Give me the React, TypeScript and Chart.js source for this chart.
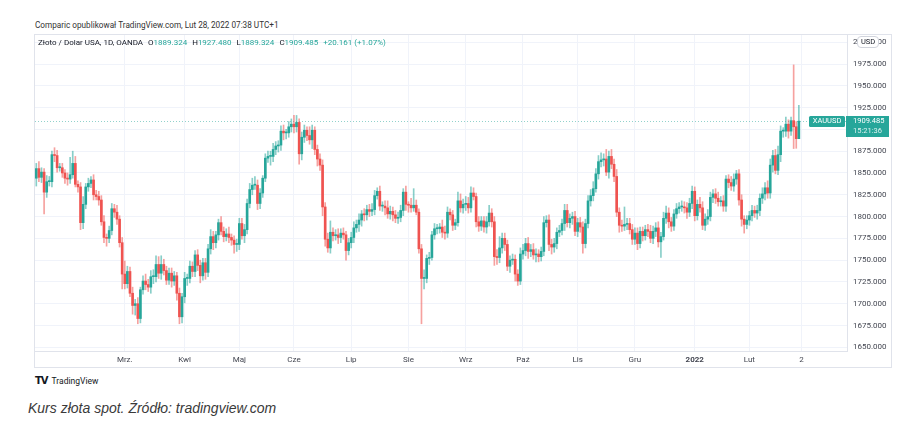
import React, { useEffect, useRef } from 'react';
import { Chart, registerables } from 'chart.js';

Chart.register(...registerables);

// Daily closes XAUUSD (OANDA), 12 Jan 2021 .. 28 Feb 2022
const closes = [
  1855, 1845, 1851, 1828, 1840, 1840, 1871, 1870, 1856, 1856,
  1850, 1844, 1843, 1848, 1861, 1837, 1834, 1793, 1814, 1834,
  1838, 1842, 1825, 1823, 1819, 1794, 1776, 1775, 1784, 1809,
  1805, 1797, 1770, 1734, 1723, 1737, 1712, 1698, 1700, 1683,
  1716, 1726, 1722, 1719, 1731, 1731, 1745, 1735, 1745, 1738,
  1727, 1735, 1726, 1732, 1712, 1685, 1708, 1729, 1729, 1743,
  1737, 1756, 1744, 1732, 1747, 1736, 1763, 1777, 1770, 1779,
  1793, 1783, 1777, 1780, 1776, 1773, 1768, 1768, 1792, 1778,
  1785, 1815, 1831, 1836, 1836, 1815, 1827, 1844, 1867, 1869,
  1869, 1877, 1881, 1882, 1898, 1896, 1896, 1903, 1906, 1903,
  1908, 1872, 1891, 1899, 1893, 1888, 1899, 1877, 1866, 1859,
  1811, 1774, 1764, 1782, 1778, 1779, 1776, 1781, 1779, 1761,
  1770, 1776, 1787, 1791, 1796, 1803, 1802, 1808, 1806, 1808,
  1824, 1829, 1812, 1812, 1810, 1803, 1806, 1802, 1798, 1799,
  1807, 1828, 1814, 1813, 1810, 1813, 1805, 1763, 1729, 1729,
  1752, 1753, 1779, 1786, 1786, 1788, 1782, 1781, 1805, 1802,
  1790, 1793, 1818, 1810, 1814, 1815, 1810, 1827, 1823, 1794,
  1789, 1795, 1788, 1794, 1804, 1794, 1754, 1753, 1764, 1775,
  1768, 1743, 1750, 1751, 1734, 1726, 1757, 1761, 1769, 1760,
  1762, 1756, 1757, 1754, 1760, 1793, 1796, 1768, 1765, 1769,
  1782, 1784, 1792, 1807, 1793, 1798, 1800, 1783, 1793, 1788,
  1769, 1792, 1818, 1824, 1832, 1849, 1863, 1865, 1866, 1851,
  1869, 1860, 1846, 1805, 1790, 1789, 1791, 1792, 1785, 1774,
  1781, 1769, 1783, 1778, 1785, 1783, 1775, 1783, 1787, 1771,
  1777, 1798, 1804, 1794, 1789, 1803, 1809, 1811, 1811, 1810,
  1805, 1815, 1829, 1801, 1814, 1810, 1790, 1797, 1800, 1822,
  1826, 1821, 1817, 1818, 1812, 1843, 1839, 1835, 1843, 1849,
  1819, 1797, 1791, 1796, 1801, 1807, 1804, 1807, 1821, 1826,
  1833, 1827, 1859, 1870, 1853, 1871, 1898, 1898, 1906, 1898,
  1910, 1903, 1889.324, 1909.485,
];
const firstOpen = 1844;

// distance of the high above the body / the low below the body
const upperWick = [
  6, 8, 5, 4, 7, 6, 4, 8, 6, 5,
  5, 4, 6, 20, 14, 8, 4, 5, 9, 4,
  6, 4, 6, 5, 6, 5, 7, 4, 5, 6,
  5, 8, 4, 6, 15, 6, 5, 7, 5, 7,
  3, 6, 8, 6, 7, 8, 10, 9, 10, 6,
  5, 6, 6, 5, 4, 6, 4, 7, 5, 6,
  5, 5, 6, 6, 5, 5, 5, 8, 6, 4,
  4, 7, 5, 6, 8, 4, 5, 6, 6, 6,
  6, 5, 7, 8, 10, 6, 5, 3, 5, 6,
  6, 7, 5, 5, 6, 7, 4, 6, 6, 10,
  8, 4, 6, 6, 4, 10, 6, 4, 5, 6,
  6, 5, 7, 13, 5, 6, 7, 5, 6, 4,
  5, 6, 7, 5, 7, 4, 6, 5, 6, 7,
  6, 4, 6, 5, 6, 8, 6, 5, 5, 6,
  6, 4, 7, 3, 8, 19, 6, 4, 5, 10,
  4, 6, 4, 6, 5, 4, 8, 7, 6, 4,
  5, 4, 10, 8, 6, 8, 7, 7, 6, 4,
  6, 5, 5, 6, 9, 5, 6, 8, 13, 6,
  6, 5, 5, 6, 5, 5, 7, 7, 6, 7,
  6, 7, 6, 5, 5, 7, 5, 6, 6, 6,
  5, 6, 5, 7, 7, 5, 5, 6, 5, 6,
  6, 5, 6, 7, 8, 6, 7, 8, 6, 11,
  6, 8, 6, 8, 5, 6, 20, 6, 6, 6,
  6, 6, 5, 5, 5, 6, 7, 6, 6, 7,
  5, 7, 8, 6, 5, 5, 6, 5, 7, 6,
  6, 6, 6, 5, 5, 8, 7, 6, 8, 6,
  5, 6, 7, 5, 6, 4, 5, 7, 6, 4,
  5, 6, 4, 5, 5, 6, 5, 6, 5, 7,
  6, 8, 7, 6, 7, 10, 6, 4, 8, 5,
  4, 64, 6, 18,
];
const lowerWick = [
  9, 5, 6, 25, 6, 5, 6, 7, 5, 4,
  5, 6, 7, 5, 4, 3, 6, 8, 7, 5,
  5, 5, 6, 4, 6, 4, 6, 9, 5, 5,
  6, 6, 5, 17, 6, 5, 4, 10, 11, 6,
  5, 5, 6, 5, 7, 8, 6, 6, 7, 5,
  5, 5, 7, 5, 8, 8, 7, 7, 8, 5,
  6, 6, 6, 8, 5, 8, 5, 6, 8, 6,
  6, 4, 6, 5, 6, 6, 10, 8, 6, 4,
  8, 5, 5, 6, 5, 7, 6, 5, 4, 5,
  10, 6, 6, 7, 6, 8, 7, 5, 6, 7,
  6, 12, 7, 6, 6, 5, 10, 6, 8, 6,
  10, 8, 5, 6, 6, 5, 7, 6, 5, 11,
  5, 6, 6, 5, 8, 7, 7, 6, 6, 5,
  6, 4, 5, 6, 8, 5, 6, 7, 5, 6,
  5, 6, 7, 8, 5, 4, 3, 5, 52, 12,
  5, 7, 3, 5, 6, 5, 6, 7, 5, 6,
  6, 5, 4, 5, 6, 7, 6, 5, 4, 6,
  6, 5, 6, 7, 5, 6, 10, 8, 6, 6,
  7, 5, 7, 5, 8, 5, 4, 6, 6, 8,
  6, 5, 8, 6, 5, 5, 5, 7, 8, 6,
  6, 5, 5, 8, 5, 6, 7, 5, 6, 6,
  11, 5, 5, 6, 6, 4, 6, 6, 7, 4,
  7, 5, 6, 5, 8, 6, 5, 6, 5, 6,
  6, 7, 5, 6, 5, 6, 5, 6, 6, 6,
  18, 4, 6, 7, 6, 5, 5, 5, 5, 6,
  7, 5, 6, 6, 5, 5, 5, 6, 6, 5,
  6, 6, 5, 5, 6, 6, 6, 5, 6, 6,
  6, 8, 10, 5, 6, 6, 5, 7, 6, 6,
  7, 6, 6, 8, 4, 5, 8, 7, 6, 8,
  5, 25, 11, 0,
];

const timeLabels = ['Mrz.', 'Kwl', 'Maj', 'Cze', 'Lip', 'Sie', 'Wrz', 'Paź', 'Lis', 'Gru', '2022', 'Lut', '2'];
const timeLabelBars = [34, 57, 78, 99, 121, 143, 165, 187, 208, 230, 253, 274, 294];
const priceTicks = [1650, 1675, 1700, 1725, 1750, 1775, 1800, 1825, 1850, 1875, 1900, 1925, 1950, 1975, 2000];
const totalSlots = 312;
const priceMin = 1645.75;
const priceMax = 2008.3;
const lastPrice = 1909.485;
const lastTime = '15:21:36';
const symbol = 'XAUUSD';

const UP = '#26a69a';
const DOWN = '#ef5350';
const UP_WICK = 'rgba(38,166,154,0.55)';
const DOWN_WICK = 'rgba(239,83,80,0.55)';
const FONT = 'Roboto, "Noto Sans", sans-serif';

export default function App() {
  const ref = useRef<HTMLCanvasElement | null>(null);

  useEffect(() => {
    const canvas = ref.current;
    if (!canvas) return;
    const opens = closes.map((c, i) => (i === 0 ? firstOpen : closes[i - 1]));
    const highs = closes.map((c, i) => Math.max(opens[i], c) + upperWick[i]);
    const lows = closes.map((c, i) => Math.min(opens[i], c) - lowerWick[i]);
    const labels = Array.from({ length: totalSlots }, (_, i) => String(i));
    const bodies = labels.map((_, i) => (i < closes.length ? [opens[i], closes[i]] : null));
    const wicks = labels.map((_, i) => (i < closes.length ? [lows[i], highs[i]] : null));
    const isUp = labels.map((_, i) => (i < closes.length ? closes[i] >= opens[i] : true));
    const bodyColors = isUp.map((u) => (u ? UP : DOWN));
    const wickColors = isUp.map((u) => (u ? UP_WICK : DOWN_WICK));

    const lastPricePlugin = {
      id: 'lastPrice',
      beforeDatasetsDraw(chart: any) {
        const { ctx, chartArea } = chart;
        const y = Math.round(chart.scales.y.getPixelForValue(lastPrice)) + 0.5;
        ctx.save();
        ctx.strokeStyle = 'rgba(38,166,154,0.5)';
        ctx.lineWidth = 1;
        ctx.setLineDash([1, 2]);
        ctx.beginPath();
        ctx.moveTo(chartArea.left, y);
        ctx.lineTo(chartArea.right, y);
        ctx.stroke();
        ctx.restore();
      },
      afterDraw(chart: any) {
        const { ctx } = chart;
        const ys = chart.scales.y;
        const y = ys.getPixelForValue(lastPrice);
        ctx.save();
        ctx.fillStyle = UP;
        ctx.fillRect(ys.left - 1, Math.round(y) - 5, 43, 21);
        ctx.fillStyle = '#ffffff';
        ctx.font = '7.5px ' + FONT;
        ctx.textAlign = 'left';
        ctx.textBaseline = 'middle';
        ctx.fillText(lastPrice.toFixed(3), ys.left + 6, Math.round(y) + 0.5);
        ctx.fillStyle = 'rgba(255,255,255,0.85)';
        ctx.fillText(lastTime, ys.left + 6, Math.round(y) + 10.5);
        const bw = 36;
        const bx = ys.left - 2 - bw;
        ctx.fillStyle = UP;
        ctx.beginPath();
        (ctx as any).roundRect(bx, Math.round(y) - 5, bw, 11, 1.5);
        ctx.fill();
        ctx.fillStyle = '#ffffff';
        ctx.textAlign = 'center';
        ctx.fillText(symbol, bx + bw / 2, Math.round(y) + 0.5);
        ctx.restore();
      },
    };

    const chart = new Chart(canvas, {
      type: 'bar',
      data: {
        labels,
        datasets: [
          {
            label: 'wick',
            data: wicks as any,
            backgroundColor: wickColors,
            barThickness: 1,
            grouped: false,
            order: 2,
          } as any,
          {
            label: 'body',
            data: bodies as any,
            backgroundColor: bodyColors,
            barThickness: 2,
            minBarLength: 1,
            grouped: false,
            order: 1,
          } as any,
        ],
      },
      options: {
        animation: false,
        responsive: false,
        devicePixelRatio: 1,
        layout: { padding: { left: 1, top: 1, right: 0, bottom: 0 } },
        plugins: {
          legend: { display: false },
          tooltip: { enabled: false },
        },
        scales: {
          x: {
            type: 'category',
            offset: true,
            afterBuildTicks: (scale: any) => {
              scale.ticks = timeLabelBars.map((v) => ({ value: v }));
            },
            afterFit: (scale: any) => {
              scale.height = 17;
              scale.paddingLeft = 0;
              scale.paddingRight = 0;
            },
            grid: { color: '#f0f3fa', offset: false, drawTicks: false },
            border: { display: true, color: '#e0e3eb' },
            ticks: {
              autoSkip: false,
              maxRotation: 0,
              padding: 4,
              color: '#434651',
              font: (ctx: any) => ({
                family: FONT,
                size: 8,
                weight: ctx.tick && ctx.tick.value === timeLabelBars[timeLabels.indexOf('2022')] ? 'bold' : 'normal',
              }),
              callback: (value: any) => {
                const k = timeLabelBars.indexOf(Number(value));
                return k >= 0 ? timeLabels[k] : '';
              },
            },
          },
          y: {
            position: 'right',
            min: priceMin,
            max: priceMax,
            afterBuildTicks: (scale: any) => {
              scale.ticks = priceTicks.map((v) => ({ value: v }));
            },
            afterFit: (scale: any) => {
              scale.width = 45;
              scale.paddingTop = 0;
              scale.paddingBottom = 0;
            },
            grid: { color: '#f0f3fa', drawTicks: false },
            border: { display: true, color: '#e0e3eb' },
            ticks: {
              padding: 6,
              color: '#434651',
              font: { family: FONT, size: 8 },
              callback: (value: any) => Number(value).toFixed(3),
            },
          },
        },
      },
      plugins: [lastPricePlugin],
    } as any);

    return () => chart.destroy();
  }, []);

  const abs = (s: React.CSSProperties): React.CSSProperties => ({ position: 'absolute', ...s });

  return (
    <div style={abs({ left: 0, top: 0, width: 915, height: 442, background: '#ffffff', fontFamily: FONT, overflow: 'hidden' })}>
      <div style={abs({ left: 35, top: 19, fontSize: 8.2, color: '#333', whiteSpace: 'nowrap', lineHeight: '12px' })}>
        Comparic opublikował TradingView.com, Lut 28, 2022 07:38 UTC+1
      </div>
      <canvas
        ref={ref}
        width={858}
        height={334}
        style={abs({ left: 34, top: 34, width: 858, height: 334 })}
      />
      <div style={abs({ left: 34, top: 34, width: 858, height: 334, boxSizing: 'border-box', border: '1px solid #e0e3eb', pointerEvents: 'none' })} />
      <div style={abs({ left: 38, top: 37, fontSize: 8, color: '#131722', whiteSpace: 'nowrap', lineHeight: '12px' })}>
        Złoto / Dolar USA, 1D, OANDA{'  '}
        <span style={{ marginLeft: 3 }}>O</span><span style={{ color: UP }}>1889.324</span>
        <span style={{ marginLeft: 5 }}>H</span><span style={{ color: UP }}>1927.480</span>
        <span style={{ marginLeft: 5 }}>L</span><span style={{ color: UP }}>1889.324</span>
        <span style={{ marginLeft: 5 }}>C</span><span style={{ color: UP }}>1909.485</span>
        <span style={{ marginLeft: 5, color: UP }}>+20.161 (+1.07%)</span>
      </div>
      <div style={abs({ left: 857, top: 36, width: 22, height: 12, boxSizing: 'border-box', border: '1px solid #d1d4dc', borderRadius: 4, background: '#fff', fontSize: 7.5, color: '#131722', textAlign: 'center', lineHeight: '10px' })}>
        USD
      </div>
      <div style={abs({ left: 35, top: 375, fontSize: 8.5, color: '#131722', whiteSpace: 'nowrap', lineHeight: '12px', display: 'flex', alignItems: 'center' })}>
        <span style={{ fontWeight: 900, fontSize: 10, letterSpacing: -1, marginRight: 4, fontFamily: '"DejaVu Sans", sans-serif' }}>TV</span>
        <span>TradingView</span>
      </div>
      <div style={abs({ left: 28, top: 400, fontSize: 14, fontStyle: 'italic', color: '#3a3a3a', whiteSpace: 'nowrap', fontFamily: '"Liberation Sans", Arial, sans-serif', lineHeight: '17px' })}>
        Kurs złota spot. Źródło: tradingview.com
      </div>
    </div>
  );
}
